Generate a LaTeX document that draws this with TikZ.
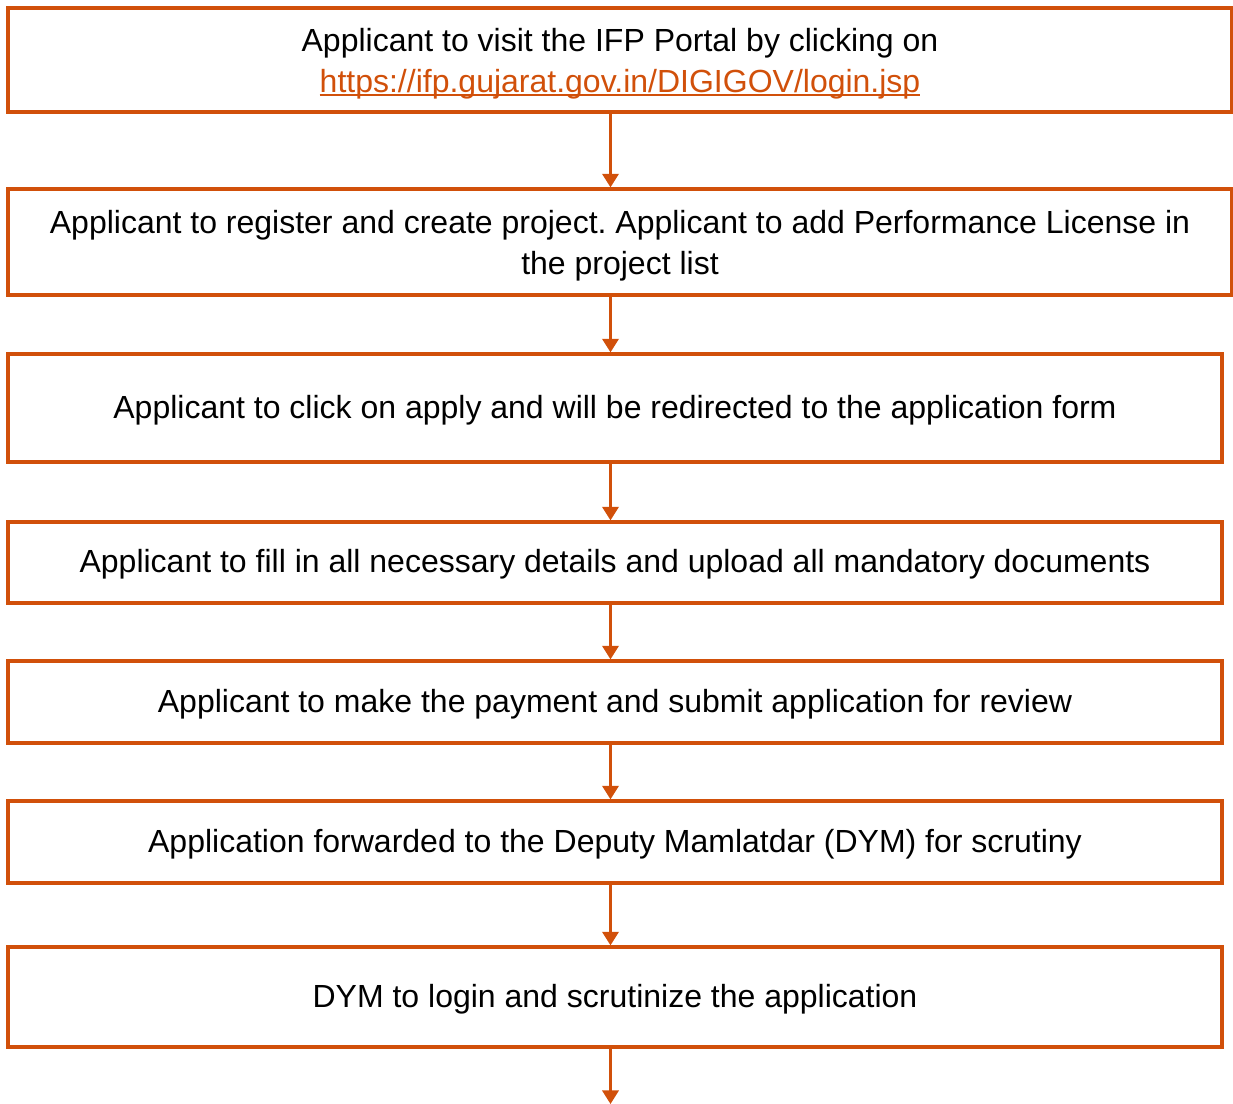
\documentclass[tikz,border=0pt]{standalone}
\usepackage{fontspec}
\setmainfont{Liberation Sans}
\usepackage{tikz}
\usepackage{xcolor}
\usetikzlibrary{positioning, arrows.meta}
\frenchspacing
\definecolor{ifporange}{RGB}{209,80,10}
\newcommand{\linkul}[1]{\setbox0\hbox{#1}\rlap{\rule[-2pt]{\wd0}{1pt}}\box0}
\newcommand{\topstrut}{\rule{0pt}{15pt}}

\begin{document}
\begin{tikzpicture}[x=0.5pt, y=-0.5pt,
        stepbox/.style={draw=ifporange, line width=1.65pt, align=center, inner sep=0pt,
            font=\fontsize{16pt}{20.5pt}\selectfont, execute at begin node={\rule{0pt}{13.7pt}}},
        flowarrow/.style={draw=ifporange, line width=1.25pt, -{Triangle[length=6.8pt, width=8.2pt]}}]
                \useasboundingbox (0,0) rectangle (1233,1104);
                \coordinate (ax) at (610.5,0);
                \coordinate (end) at (610.5,1104);

                \node [stepbox, minimum width=612pt, minimum height=52pt] (visit) at (620,60) {\topstrut Applicant to visit the IFP Portal by clicking on\\\textcolor{ifporange}{\linkul{https://ifp.gujarat.gov.in/DIGIGOV/login.jsp}}};
                \node [stepbox, minimum width=612pt, minimum height=53pt] (register) at (620,242) {\topstrut Applicant to register and create project. Applicant to add Performance License in\\the project list};
                \node [stepbox, minimum width=607pt, minimum height=54pt] (apply) at (615,408) {Applicant to click on apply and will be redirected to the application form};
                \node [stepbox, minimum width=607pt, minimum height=40.5pt] (fill) at (615,562.5) {Applicant to fill in all necessary details and upload all mandatory documents};
                \node [stepbox, minimum width=607pt, minimum height=41pt] (pay) at (615,702) {Applicant to make the payment and submit application for review};
                \node [stepbox, minimum width=607pt, minimum height=41pt] (forward) at (615,842) {Application forwarded to the Deputy Mamlatdar (DYM) for scrutiny};
                \node [stepbox, minimum width=607pt, minimum height=50pt] (scrutiny) at (615,997) {DYM to login and scrutinize the application};

                \draw [flowarrow] (visit.south -| ax) -- (register.north -| ax);
                \draw [flowarrow] (register.south -| ax) -- (apply.north -| ax);
                \draw [flowarrow] (apply.south -| ax) -- (fill.north -| ax);
                \draw [flowarrow] (fill.south -| ax) -- (pay.north -| ax);
                \draw [flowarrow] (pay.south -| ax) -- (forward.north -| ax);
                \draw [flowarrow] (forward.south -| ax) -- (scrutiny.north -| ax);
                \draw [flowarrow] (scrutiny.south -| ax) -- (end);
\end{tikzpicture}
\end{document}
